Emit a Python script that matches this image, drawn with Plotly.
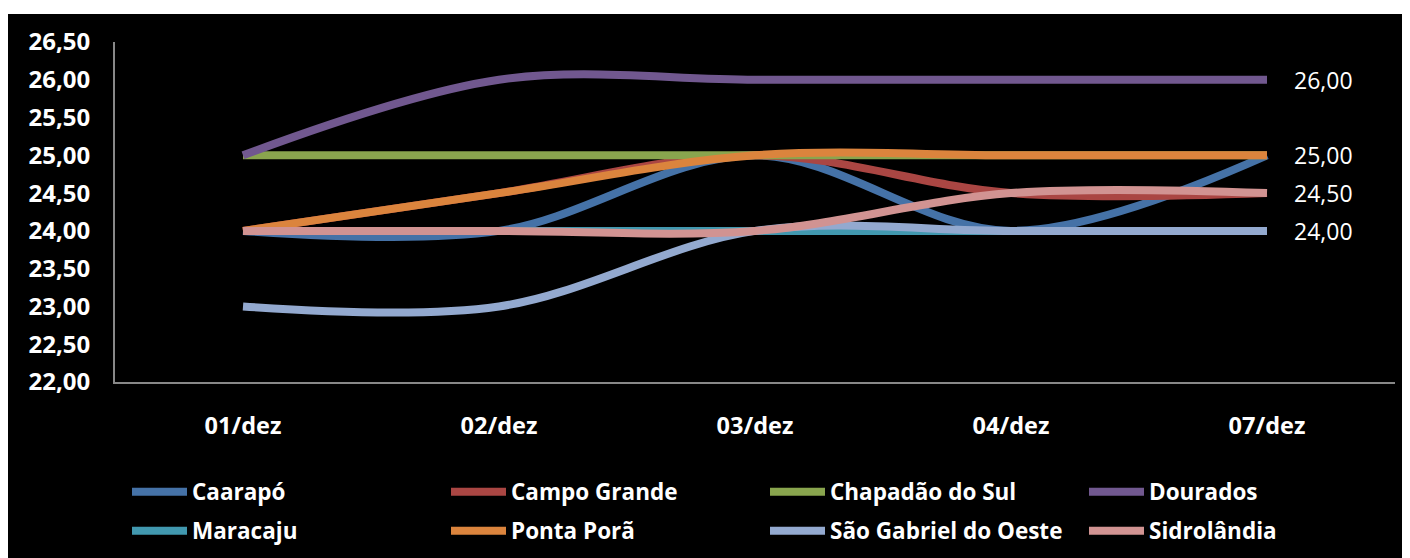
import plotly.graph_objects as go

categories = ["01/dez", "02/dez", "03/dez", "04/dez", "07/dez"]
caarapo = [24, 24, 25, 24, 25]
campo_grande = [24, 24.5, 25, 24.5, 24.5]
chapadao = [25, 25, 25, 25, 25]
dourados = [25, 26, 26, 26, 26]
maracaju = [24, 24, 24, 24, 24]
ponta_pora = [24, 24.5, 25, 25, 25]
sao_gabriel = [23, 23, 24, 24, 24]
sidrolandia = [24, 24, 24, 24.5, 24.5]

series = [
    ("Caarapó", caarapo, "#4572A7", False),
    ("Campo Grande", campo_grande, "#AA4643", False),
    ("Chapadão do Sul", chapadao, "#89A54E", False),
    ("Dourados", dourados, "#71588F", True),
    ("Maracaju", maracaju, "#4198AF", False),
    ("Ponta Porã", ponta_pora, "#DB843D", True),
    ("São Gabriel do Oeste", sao_gabriel, "#93A9CF", True),
    ("Sidrolândia", sidrolandia, "#D19392", True),
]

FONT = "Open Sans"
O = 8  # page body margin
W, H = 1410 - O, 558 - O
L, T = 115 - O, 42 - O
plot_right, plot_bottom = 1395 - O, 382 - O
R, B = W - plot_right, H - plot_bottom
pw, ph = W - L - R, H - T - B

def py(pix):
    return (T + ph - (pix - O)) / ph

def px(pix):
    return ((pix - O) - L) / pw

fig = go.Figure()
annotations = []
for i, (name, vals, color, lab) in enumerate(series):
    fig.add_trace(go.Scatter(
        x=categories, y=vals, name=name, mode="lines",
        line=dict(color=color, width=8, shape="spline", smoothing=1),
        legend="legend" if i < 4 else "legend2",
    ))
    if lab:
        annotations.append(dict(
            x=categories[-1], y=vals[-1], xref="x", yref="y",
            text=f"{vals[-1]:.2f}".replace(".", ","), showarrow=False,
            xanchor="left", yanchor="middle", xshift=25,
            font=dict(family=FONT, size=23, color="white"),
        ))

fig.add_shape(type="rect", xref="paper", yref="paper",
              x0=px(0), x1=px(1410), y0=py(558), y1=py(14),
              fillcolor="black", line=dict(width=0), layer="below")

leg_common = dict(orientation="h", x=px(127), xanchor="left", yanchor="middle",
                  entrywidth=249, entrywidthmode="pixels", itemwidth=55,
                  font=dict(family=FONT, size=22.5, color="white", weight="bold"),
                  bgcolor="rgba(0,0,0,0)")

fig.update_layout(
    width=W, height=H,
    margin=dict(l=L, r=R, t=T, b=B, autoexpand=False),
    paper_bgcolor="white", plot_bgcolor="black",
    separators=",.",
    showlegend=True,
    legend=dict(leg_common, y=py(492)),
    legend2=dict(leg_common, y=py(531)),
    annotations=annotations,
    xaxis=dict(
        type="category", range=[-0.5, 4.5], showgrid=False, zeroline=False,
        showline=True, linecolor="#888888", linewidth=2,
        tickfont=dict(family=FONT, size=23.5, color="white", weight="bold"),
        ticks="", ticklabelstandoff=22,
    ),
    yaxis=dict(
        range=[22, 26.5], dtick=0.5, tickformat=".2f", showgrid=False,
        zeroline=False, showline=True, linecolor="#888888", linewidth=2,
        tickfont=dict(family=FONT, size=24, color="white", weight="bold"),
        ticks="", ticklabelstandoff=18,
    ),
)

fig.write_html("out.html")
